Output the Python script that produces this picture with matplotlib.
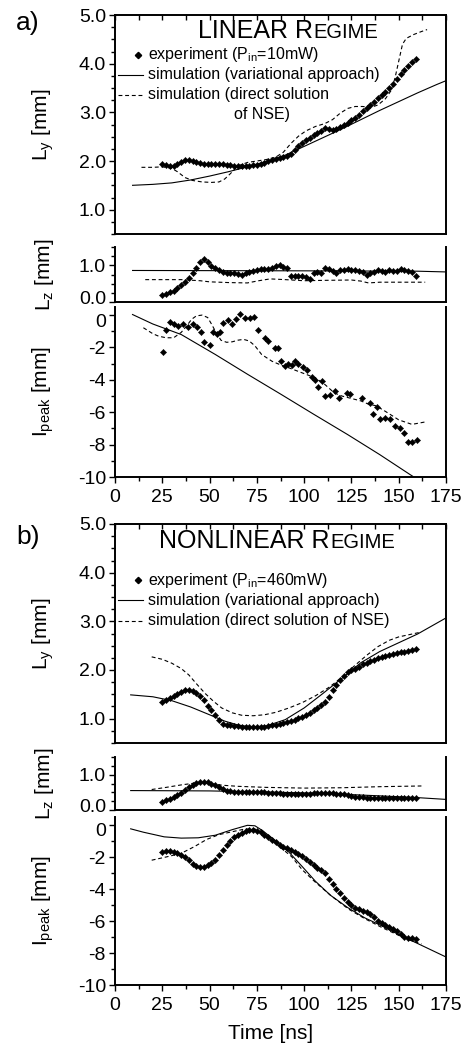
import matplotlib
matplotlib.use("Agg")
import matplotlib.pyplot as plt
from matplotlib.lines import Line2D
from matplotlib.ticker import MultipleLocator, FixedLocator
import matplotlib.transforms as mtransforms

plt.rcParams['font.family'] = ['Liberation Sans', 'DejaVu Sans']
plt.rcParams['mathtext.fontset'] = 'custom'
plt.rcParams['mathtext.rm'] = 'Liberation Sans'
plt.rcParams['mathtext.it'] = 'Liberation Sans:italic'
plt.rcParams['axes.unicode_minus'] = False

# ---------------- data: panel a (linear regime) ----------------
t_exp_odd = list(range(25, 160, 2))

a_ly_exp = [1.94, 1.91, 1.90, 1.90, 1.93, 1.98, 2.02, 2.02, 2.00, 1.97, 1.95, 1.94, 1.94, 1.94,
            1.94, 1.93, 1.93, 1.92, 1.91, 1.90, 1.90, 1.89, 1.90, 1.90, 1.91, 1.92, 1.94, 1.96,
            1.99, 2.02, 2.05, 2.07, 2.08, 2.10, 2.15, 2.23, 2.30, 2.37, 2.43, 2.48, 2.53, 2.57,
            2.62, 2.67, 2.65, 2.63, 2.65, 2.69, 2.73, 2.78, 2.84, 2.89, 2.95, 3.02, 3.09, 3.16,
            3.22, 3.29, 3.35, 3.42, 3.49, 3.58, 3.68, 3.78, 3.87, 3.96, 4.03, 4.09]
a_ly_var_t = [9, 20, 30, 40, 50, 60, 70, 80, 90, 100, 110, 120, 130, 140, 150, 160, 170, 175]
a_ly_var = [1.50, 1.52, 1.55, 1.61, 1.69, 1.78, 1.88, 1.99, 2.12, 2.30, 2.48, 2.66, 2.85, 3.04,
            3.22, 3.40, 3.57, 3.65]
a_ly_nse_t = [14, 20, 25, 30, 33, 37, 41, 46, 51, 55, 58, 61, 65, 70, 75, 80, 85, 89, 93, 97,
              101, 106, 111, 115, 119, 123, 127, 131, 135, 139, 143, 146, 148, 150, 152, 154,
              158, 162, 165]
a_ly_nse = [1.87, 1.87, 1.88, 1.85, 1.78, 1.66, 1.60, 1.57, 1.56, 1.57, 1.63, 1.74, 1.90, 1.97,
            2.00, 2.03, 2.08, 2.18, 2.36, 2.51, 2.62, 2.71, 2.77, 2.85, 2.98, 3.08, 3.12, 3.12,
            3.10, 3.15, 3.28, 3.45, 3.70, 4.05, 4.40, 4.52, 4.60, 4.66, 4.70]

a_lz_exp = [0.19, 0.23, 0.27, 0.31, 0.38, 0.47, 0.55, 0.66, 0.78, 0.93, 1.08, 1.16, 1.08, 0.99,
            0.92, 0.87, 0.82, 0.80, 0.78, 0.78, 0.76, 0.75, 0.78, 0.82, 0.84, 0.86, 0.89, 0.90,
            0.91, 0.94, 0.98, 1.00, 0.95, 0.93, 0.72, 0.70, 0.71, 0.72, 0.68, 0.64, 0.80, 0.82,
            0.80, 0.92, 0.90, 0.85, 0.80, 0.86, 0.88, 0.89, 0.88, 0.86, 0.84, 0.82, 0.75, 0.80,
            0.83, 0.86, 0.84, 0.82, 0.86, 0.84, 0.84, 0.90, 0.86, 0.84, 0.82, 0.71]
a_lz_var_t = [9, 100, 160, 175]
a_lz_var = [0.86, 0.85, 0.84, 0.82]
a_lz_nse_t = [16, 35, 45, 50, 60, 70, 76, 82, 90, 100, 110, 125, 130, 134, 140, 164]
a_lz_nse = [0.61, 0.61, 0.58, 0.55, 0.53, 0.52, 0.58, 0.63, 0.61, 0.58, 0.59, 0.60, 0.57, 0.52,
            0.54, 0.54]

a_ip_exp_t = [25.5, 26.8, 29, 31.4, 33.5, 36, 38.8, 41, 43.2, 45.5, 47.2, 50.2, 51.6, 53.7, 55.5,
              57.3, 60, 61.7, 63.8, 66, 68.7, 71.4, 73.7, 75.4, 79.3, 81, 84.6, 86.3, 88, 90,
              91.6, 93.4, 95.2, 97, 99.6, 101.3, 104, 105.7, 107.5, 109.6, 111, 113.7, 116.3,
              118.4, 122.5, 124.2, 130.4, 134.8, 136.6, 138.3, 140.1, 142.7, 145.4, 148, 150.7,
              153, 155, 157.2, 159.5]
a_ip_exp = [-2.29, -0.95, -0.41, -0.53, -0.68, -0.57, -0.74, -0.57, -0.74, -1.03, -1.65, -1.86,
            -1.05, -1.16, -1.03, -0.47, -0.33, -0.57, -0.26, 0.05, -0.20, -0.20, -0.12, -0.95,
            -1.44, -1.57, -2.06, -2.06, -2.85, -3.16, -3.05, -3.10, -2.85, -3.00, -3.22, -3.37,
            -3.84, -3.98, -4.46, -4.09, -5.02, -4.96, -4.71, -5.12, -4.81, -4.87, -5.12, -5.43,
            -6.11, -5.70, -6.40, -6.36, -6.40, -6.88, -6.98, -7.30, -7.85, -7.85, -7.70]
a_ip_var_t = [9, 20, 35, 53, 70, 88, 105, 123, 140, 156, 160]
a_ip_var = [0.05, -0.55, -1.2, -2.43, -3.65, -4.91, -6.12, -7.38, -8.62, -9.85, -10.15]
a_ip_nse_t = [15, 20, 23, 27, 31, 35, 38, 40.5, 43, 46, 49, 51, 53, 56, 59, 62, 65, 68, 71, 74,
              77.5, 83, 88, 92, 99, 106, 111, 116, 120, 125, 130, 134, 138, 143, 150, 157, 164]
a_ip_nse = [-0.78, -1.15, -1.3, -1.4, -1.4, -1.07, -0.65, -0.26, -0.05, 0.0, -0.15, -0.55, -0.98,
            -1.55, -1.68, -1.65, -1.55, -1.5, -1.6, -1.9, -2.43, -2.85, -3.1, -3.26, -3.57,
            -3.88, -4.29, -4.81, -5.0, -5.15, -5.3, -5.5, -5.6, -5.95, -6.47, -6.75, -6.6]

# ---------------- data: panel b (nonlinear regime) ----------------
b_ly_exp = [1.34, 1.38, 1.42, 1.46, 1.50, 1.54, 1.58, 1.58, 1.56, 1.52, 1.46, 1.38, 1.27, 1.17,
            1.07, 0.97, 0.90, 0.87, 0.86, 0.85, 0.84, 0.83, 0.82, 0.82, 0.82, 0.82, 0.83, 0.83,
            0.84, 0.86, 0.87, 0.89, 0.91, 0.93, 0.95, 0.98, 1.01, 1.04, 1.08, 1.12, 1.17, 1.22,
            1.28, 1.35, 1.45, 1.58, 1.70, 1.80, 1.88, 1.95, 2.00, 2.03, 2.07, 2.12, 2.15, 2.18,
            2.20, 2.24, 2.27, 2.29, 2.31, 2.33, 2.35, 2.36, 2.38, 2.40, 2.42, 2.44]
b_ly_var_t = [8, 20, 30, 40, 50, 58, 65, 72, 80, 90, 100, 110, 120, 130, 140, 150, 160, 175]
b_ly_var = [1.49, 1.45, 1.37, 1.24, 1.08, 0.95, 0.87, 0.83, 0.85, 0.98, 1.22, 1.52, 1.83, 2.15,
            2.38, 2.56, 2.74, 3.07]
b_ly_nse_t = [19.4, 25, 30, 35, 39, 43, 47.6, 52, 56.4, 62, 67, 73, 79, 85, 92, 99, 106, 113,
              120, 127, 133, 139, 145, 150, 156, 162]
b_ly_nse = [2.27, 2.22, 2.14, 2.03, 1.90, 1.72, 1.52, 1.36, 1.22, 1.12, 1.07, 1.06, 1.08, 1.13,
            1.22, 1.33, 1.47, 1.64, 1.85, 2.10, 2.30, 2.48, 2.61, 2.68, 2.73, 2.78]

b_lz_exp = [0.24, 0.28, 0.32, 0.36, 0.42, 0.48, 0.56, 0.65, 0.72, 0.77, 0.79, 0.79, 0.78, 0.75,
            0.71, 0.66, 0.60, 0.55, 0.53, 0.52, 0.51, 0.51, 0.51, 0.51, 0.51, 0.50, 0.50, 0.50,
            0.49, 0.49, 0.48, 0.47, 0.46, 0.45, 0.45, 0.44, 0.44, 0.44, 0.45, 0.46, 0.47, 0.48,
            0.48, 0.49, 0.48, 0.47, 0.46, 0.45, 0.44, 0.42, 0.40, 0.38, 0.37, 0.36, 0.35, 0.34,
            0.34, 0.33, 0.33, 0.33, 0.33, 0.33, 0.33, 0.33, 0.33, 0.34, 0.34, 0.34]
b_lz_var_t = [8, 50, 80, 110, 140, 160, 175]
b_lz_var = [0.55, 0.54, 0.51, 0.47, 0.40, 0.35, 0.30]
b_lz_nse_t = [19.4, 27, 35, 42, 50, 57, 65, 80, 100, 120, 140, 162]
b_lz_nse = [0.58, 0.64, 0.71, 0.76, 0.75, 0.70, 0.67, 0.64, 0.62, 0.63, 0.66, 0.68]

b_ip_exp = [-1.68, -1.63, -1.65, -1.70, -1.77, -1.85, -1.98, -2.20, -2.42, -2.57, -2.65, -2.63,
            -2.52, -2.36, -2.16, -1.88, -1.58, -1.28, -1.02, -0.78, -0.60, -0.48, -0.38, -0.32,
            -0.31, -0.35, -0.46, -0.60, -0.75, -0.91, -1.07, -1.24, -1.36, -1.46, -1.55, -1.66,
            -1.80, -1.95, -2.12, -2.30, -2.50, -2.66, -2.82, -3.00, -3.35, -3.70, -4.00, -4.27,
            -4.55, -4.82, -5.00, -5.17, -5.28, -5.38, -5.46, -5.58, -5.78, -5.97, -6.12, -6.24,
            -6.36, -6.50, -6.64, -6.82, -6.98, -7.05, -7.08, -7.10]
b_ip_var_t = [8, 15, 26, 35, 44, 53, 62, 70, 74, 78, 85, 92, 99, 106, 114, 123, 132, 141, 150,
              159, 167, 175]
b_ip_var = [-0.23, -0.45, -0.74, -0.82, -0.80, -0.64, -0.29, -0.02, -0.05, -0.35, -1.0, -1.7,
            -2.6, -3.52, -4.4, -5.16, -5.8, -6.3, -6.85, -7.35, -7.8, -8.25]
b_ip_nse_t = [19.4, 27, 35, 42, 48.5, 55, 62, 68.7, 74, 79, 83, 88, 93.4, 99, 105.7, 114, 123.4,
              132, 141, 150, 156, 162]
b_ip_nse = [-2.2, -2.0, -1.77, -1.35, -0.9, -0.6, -0.42, -0.25, -0.25, -0.6, -0.95, -1.45, -1.98,
            -2.8, -3.55, -4.4, -5.25, -5.85, -6.4, -6.9, -7.2, -7.43]

x_ticks = [0, 25, 50, 75, 100, 125, 150, 175]
ly_ticks = [1.0, 2.0, 3.0, 4.0, 5.0]
lz_ticks = [0.0, 1.0]
ip_ticks = [0, -2, -4, -6, -8, -10]

# ---------------- figure ----------------
W, H = 472, 1045
fig = plt.figure(figsize=(W / 100, H / 100), dpi=100)


def rect(top, bottom, left=115, right=446):
    return [left / W, 1 - bottom / H, (right - left) / W, (bottom - top) / H]


def fpt(x, y):
    return (x / W, 1 - y / H)


TICK_FS = 14
LAB_FS = 15
SP_LW = 1.4
MS = 3.2
LW = 0.8
DASH = (0, (3.5, 2.5))


def shift_label(lbl, dy_px):
    lbl.set_transform(lbl.get_transform() +
                      mtransforms.ScaledTranslation(0, dy_px / 100, fig.dpi_scale_trans))


def style(ax, kind):
    for s in ax.spines.values():
        s.set_linewidth(SP_LW)
    ax.set_xlim(0, 175)
    ax.tick_params(axis='both', which='both', width=1.0, labelsize=TICK_FS, pad=2)
    ax.tick_params(axis='y', which='both', direction='out', right=False)
    ax.tick_params(axis='y', which='major', length=4.5)
    ax.tick_params(axis='y', which='minor', length=3)
    if kind == 'ly':
        ax.set_ylim(0.5, 5.0)
        ax.yaxis.set_major_locator(FixedLocator(ly_ticks))
        ax.yaxis.set_minor_locator(MultipleLocator(0.25))
        ax.set_yticklabels(["%.1f" % v for v in ly_ticks])
        ax.xaxis.set_major_locator(FixedLocator(x_ticks))
        ax.xaxis.set_minor_locator(MultipleLocator(12.5))
        ax.tick_params(axis='x', which='both', bottom=False, top=True, labelbottom=False,
                       direction='in', length=3.5)
    elif kind == 'lz':
        ax.set_ylim(0, 1.5)
        ax.spines['top'].set_visible(False)
        ax.yaxis.set_major_locator(FixedLocator(lz_ticks))
        ax.yaxis.set_minor_locator(MultipleLocator(0.25))
        labels = ax.set_yticklabels(["%.1f" % v for v in lz_ticks])
        shift_label(labels[0], 4)
        ax.tick_params(axis='x', which='both', bottom=False, top=False, labelbottom=False)
    else:
        ax.set_ylim(-10, 0.5)
        ax.spines['top'].set_visible(False)
        ax.yaxis.set_major_locator(FixedLocator(ip_ticks))
        ax.yaxis.set_minor_locator(MultipleLocator(1))
        labels = ax.set_yticklabels(["%d" % v for v in ip_ticks])
        shift_label(labels[0], -5)
        ax.xaxis.set_major_locator(FixedLocator(x_ticks))
        ax.xaxis.set_minor_locator(MultipleLocator(12.5))
        ax.tick_params(axis='x', which='both', bottom=True, top=False, direction='out')
        ax.tick_params(axis='x', which='major', length=4.5, pad=4)
        ax.tick_params(axis='x', which='minor', length=3)
        ax.set_xticklabels([str(v) for v in x_ticks])


def draw(ax, t_var, y_var, t_nse, y_nse, t_exp, y_exp):
    ax.plot(t_var, y_var, color='black', lw=LW, solid_capstyle='butt')
    ax.plot(t_nse, y_nse, color='black', lw=LW, linestyle=DASH)
    ax.plot(t_exp, y_exp, linestyle='none', marker='D', ms=MS, color='black',
            markeredgewidth=0.3)


panels = [
    ('a', 15, 234, 247, 302, 307, 477),
    ('b', 524, 743, 757, 810, 817, 985),
]

ylab_x = -0.178
for name, ly_t, ly_b, lz_t, lz_b, ip_t, ip_b in panels:
    ax1 = fig.add_axes(rect(ly_t, ly_b))
    ax2 = fig.add_axes(rect(lz_t, lz_b))
    ax3 = fig.add_axes(rect(ip_t, ip_b))
    style(ax1, 'ly')
    style(ax2, 'lz')
    style(ax3, 'ip')
    if name == 'a':
        draw(ax1, a_ly_var_t, a_ly_var, a_ly_nse_t, a_ly_nse, t_exp_odd, a_ly_exp)
        draw(ax2, a_lz_var_t, a_lz_var, a_lz_nse_t, a_lz_nse, t_exp_odd, a_lz_exp)
        draw(ax3, a_ip_var_t, a_ip_var, a_ip_nse_t, a_ip_nse, a_ip_exp_t, a_ip_exp)
    else:
        draw(ax1, b_ly_var_t, b_ly_var, b_ly_nse_t, b_ly_nse, t_exp_odd, b_ly_exp)
        draw(ax2, b_lz_var_t, b_lz_var, b_lz_nse_t, b_lz_nse, t_exp_odd, b_lz_exp)
        draw(ax3, b_ip_var_t, b_ip_var, b_ip_nse_t, b_ip_nse, t_exp_odd, b_ip_exp)
    ax1.set_ylabel(r"L$_\mathrm{y}$ [mm]", fontsize=LAB_FS)
    ax2.set_ylabel(r"L$_\mathrm{z}$ [mm]", fontsize=LAB_FS)
    ax3.set_ylabel(r"I$_\mathrm{peak}$ [mm]", fontsize=LAB_FS)
    for ax in (ax1, ax2, ax3):
        ax.yaxis.set_label_coords(ylab_x, 0.5)
    if name == 'b':
        ax3.set_xlabel("Time [ns]", fontsize=LAB_FS)
        ax3.xaxis.set_label_coords(0.47, -0.235)

# panel letters
fig.text(*fpt(16, 23), "a)", fontsize=19, ha='left', va='center')
fig.text(*fpt(16, 537), "b)", fontsize=19, ha='left', va='center')

# titles in small-caps style, centred on a given point
renderer = fig.canvas.get_renderer()


def smallcaps_title(cx, baseline, big, small, fs_big=18, fs_small=14.5):
    t1 = fig.text(0, 1 - baseline / H, big, fontsize=fs_big, ha='left', va='baseline')
    t2 = fig.text(0, 1 - baseline / H, small, fontsize=fs_small, ha='left', va='baseline')
    w1 = t1.get_window_extent(renderer).width
    w2 = t2.get_window_extent(renderer).width
    x0 = cx - (w1 + w2) / 2
    t1.set_x(x0 / W)
    t2.set_x((x0 + w1) / W)


smallcaps_title(288, 38, "LINEAR R", "EGIME")
smallcaps_title(277, 548, "NONLINEAR R", "EGIME")

# legends drawn by hand
LEG_FS = 11.5


def legend_block(y_exp, y_var, y_nse, exp_label, nse_lines):
    xm, ym = fpt(138, y_exp)
    fig.add_artist(Line2D([xm], [ym], marker='D', ms=MS, color='black', linestyle='none',
                          transform=fig.transFigure))
    fig.text(*fpt(148, y_exp), exp_label, fontsize=LEG_FS, ha='left', va='center')
    x0, yv = fpt(118, y_var)
    x1, _ = fpt(143, y_var)
    fig.add_artist(Line2D([x0, x1], [yv, yv], color='black', lw=LW, transform=fig.transFigure))
    fig.text(*fpt(148, y_var), "simulation (variational approach)", fontsize=LEG_FS,
             ha='left', va='center')
    _, yn = fpt(118, y_nse)
    fig.add_artist(Line2D([x0, x1], [yn, yn], color='black', lw=LW, linestyle=DASH,
                          transform=fig.transFigure))
    fig.text(*fpt(148, y_nse), nse_lines[0], fontsize=LEG_FS, ha='left', va='center')
    if len(nse_lines) > 1:
        fig.text(*fpt(234, y_nse + 20), nse_lines[1], fontsize=LEG_FS, ha='left', va='center')


legend_block(55, 75, 95, r"experiment (P$_{\mathrm{in}}$=10mW)",
             ["simulation (direct solution", "of NSE)"])
legend_block(580, 600, 621, r"experiment (P$_{\mathrm{in}}$=460mW)",
             ["simulation (direct solution of NSE)"])

fig.savefig("out.png", dpi=100)
